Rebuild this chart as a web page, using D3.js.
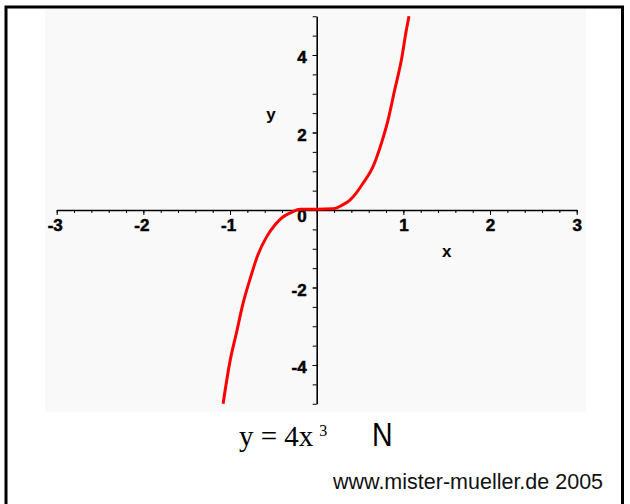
<!DOCTYPE html>
<html>
<head>
  <meta charset="utf-8">
  <title>y = 4x^3</title>
  <script src="https://cdn.jsdelivr.net/npm/d3@7/dist/d3.min.js"></script>
  <style>
    body { margin: 0; background: #fff; }
  </style>
</head>
<body>
  <svg width="630" height="504"></svg>
  <script>
    // values
    var curveX = [-1.08, -1.0, -0.927, -0.85, -0.773, -0.677, -0.58, -0.48, -0.39, -0.29, -0.19, 0.0,
                  0.19, 0.29, 0.38, 0.46, 0.534, 0.65, 0.746, 0.823, 0.9, 0.977, 1.035, 1.065];
    var curveY = [-5.0, -3.9, -3.18, -2.41, -1.81, -1.15, -0.7, -0.38, -0.18, -0.06, 0.02, 0.02,
                  0.03, 0.12, 0.25, 0.45, 0.69, 1.12, 1.72, 2.32, 3.1, 3.87, 4.65, 5.0];
    var xTicks = [-3, -2, -1, 1, 2, 3];
    var yTicks = [-4, -2, 0, 2, 4];
    var xMinor = d3.range(-15, 16).map(function (i) { return i / 5; });
    var yMinor = d3.range(-10, 11).map(function (i) { return i / 2; });

    var sans = "Liberation Sans, Arial, sans-serif";
    var svg = d3.select("svg").attr("font-family", sans);

    // frame
    svg.append("path")
      .attr("d", "M6,504 V7 H622.5 V504")
      .attr("fill", "none")
      .attr("stroke", "#000")
      .attr("stroke-width", 3);

    // light plot background
    svg.append("rect")
      .attr("x", 45).attr("y", 9)
      .attr("width", 541).attr("height", 403)
      .attr("fill", "#f9f9f9");

    var x = d3.scaleLinear().domain([-3, 3]).range([56.7, 576.7]);
    var y = d3.scaleLinear().domain([-5, 5]).range([403.75, 16.25]);
    var fmt = function (d) { return String(d); };

    // x axis: minor ticks, then labelled majors
    svg.append("g")
      .attr("transform", "translate(0," + y(0) + ")")
      .call(d3.axisBottom(x).tickValues(xMinor).tickSize(3).tickFormat(""))
      .call(function (g) { g.select(".domain").remove(); });

    var xa = svg.append("g")
      .attr("transform", "translate(0," + y(0) + ")")
      .call(d3.axisBottom(x).tickValues(xTicks).tickSize(5).tickSizeOuter(0).tickPadding(4)
        .tickFormat(fmt));
    xa.select(".domain").attr("stroke-width", 1.6);
    xa.selectAll("text")
      .attr("font-size", 17).attr("font-weight", "bold").attr("fill", "#000")
      .attr("stroke", "#000").attr("stroke-width", 0.5)
      .attr("font-family", sans)
      .attr("dx", function (d) { return d < 0 ? -2 : 0; });

    // y axis
    svg.append("g")
      .attr("transform", "translate(" + x(0) + ",0)")
      .call(d3.axisLeft(y).tickValues(yMinor).tickSize(4).tickFormat(""))
      .call(function (g) { g.select(".domain").remove(); });

    var ya = svg.append("g")
      .attr("transform", "translate(" + x(0) + ",0)")
      .call(d3.axisLeft(y).tickValues(yTicks).tickSize(4).tickSizeOuter(0).tickPadding(6)
        .tickFormat(fmt));
    ya.select(".domain").attr("stroke-width", 1.6);
    ya.selectAll("text")
      .attr("font-size", 17).attr("font-weight", "bold").attr("fill", "#000")
      .attr("stroke", "#000").attr("stroke-width", 0.5)
      .attr("font-family", sans)
      .attr("dy", function (d) { return d === 0 ? "0.7em" : "0.45em"; });

    // axis names
    svg.append("text").attr("x", x(1.5)).attr("y", 257)
      .attr("text-anchor", "middle").attr("font-size", 17).attr("font-weight", "bold")
      .text("x");
    svg.append("text").attr("x", 271).attr("y", 120)
      .attr("text-anchor", "middle").attr("font-size", 17).attr("font-weight", "bold")
      .text("y");

    // curve
    var pts = curveX.map(function (d, i) { return [d, curveY[i]]; });
    var line = d3.line()
      .x(function (d) { return x(d[0]); })
      .y(function (d) { return y(d[1]); })
      .curve(d3.curveMonotoneX);
    svg.append("path")
      .datum(pts)
      .attr("d", line)
      .attr("fill", "none")
      .attr("stroke", "#ff0000")
      .attr("stroke-width", 3);

    // formula
    var f = svg.append("text")
      .attr("x", 239).attr("y", 446)
      .attr("font-family", "Liberation Serif, Times New Roman, serif")
      .attr("font-size", 29);
    f.append("tspan").text("y = 4x");
    f.append("tspan").attr("dy", -10).attr("dx", 6).attr("font-size", 16).text("3");

    svg.append("text")
      .attr("x", 372).attr("y", 446)
      .attr("font-size", 34)
      .attr("transform", "translate(372,0) scale(0.84,1) translate(-372,0)")
      .text("N");

    svg.append("text")
      .attr("x", 333).attr("y", 489)
      .attr("font-size", 21.5)
      .attr("fill", "#111")
      .text("www.mister-mueller.de 2005");
  </script>
</body>
</html>
